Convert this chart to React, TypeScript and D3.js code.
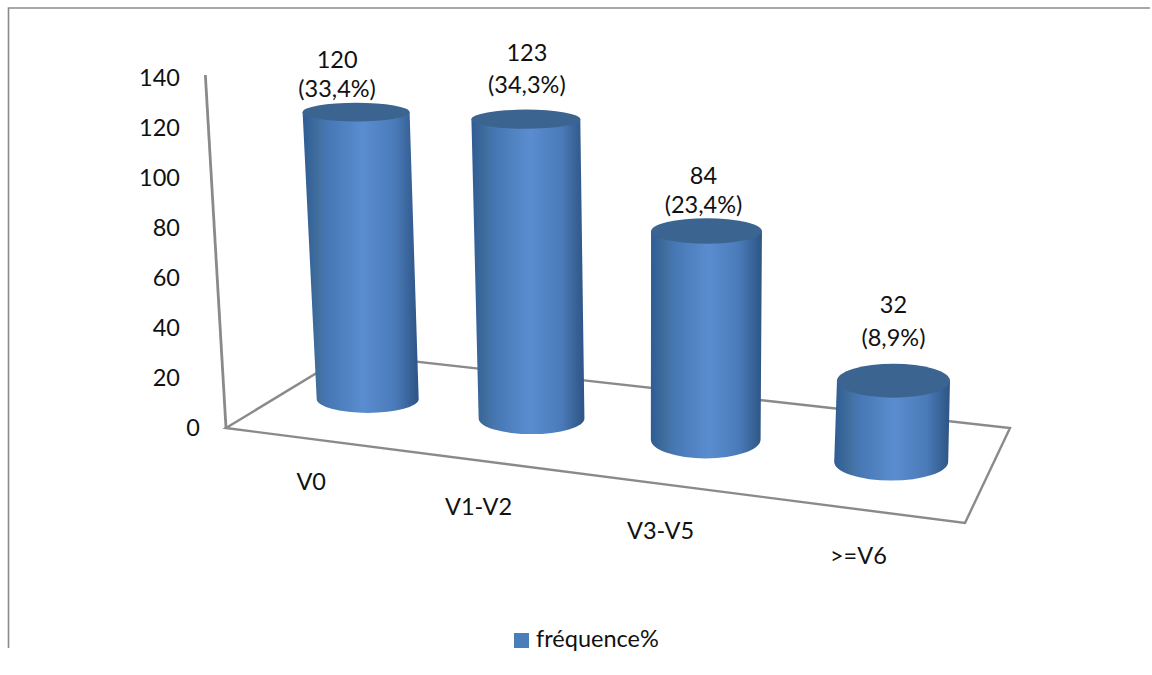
import React from "react";
import * as d3 from "d3";

const categories = ["V0", "V1-V2", "V3-V5", ">=V6"];
const counts = [120, 123, 84, 32];
const shares = ["(33,4%)", "(34,3%)", "(23,4%)", "(8,9%)"];
const yTicks = [0, 20, 40, 60, 80, 100, 120, 140];
const legendLabel = "fréquence%";

const FONT = "Lato, 'Open Sans', sans-serif";
const FONT_SIZE = 23.5;
const AXIS = "#8a8a8a";

// Floor corners on screen: near-left, near-right, far-right, far-left
const floor: [number, number][] = [[226, 428], [965, 523], [1010, 428], [348, 354]];

function makeHomography(q: [number, number][]) {
  const [[x0, y0], [x1, y1], [x2, y2], [x3, y3]] = q;
  const dx1 = x1 - x2, dx2 = x3 - x2, sx = x0 - x1 + x2 - x3;
  const dy1 = y1 - y2, dy2 = y3 - y2, sy = y0 - y1 + y2 - y3;
  const det = dx1 * dy2 - dx2 * dy1;
  const g = (sx * dy2 - dx2 * sy) / det;
  const h = (dx1 * sy - sx * dy1) / det;
  const a = x1 - x0 + g * x1, b = x3 - x0 + h * x3, c = x0;
  const d = y1 - y0 + g * y1, e = y3 - y0 + h * y3, f = y0;
  return (u: number, v: number): [number, number] => {
    const w = g * u + h * v + 1;
    return [(a * u + b * v + c) / w, (d * u + e * v + f) / w];
  };
}
const project = makeHomography(floor);

const band = d3.scaleBand<string>().domain(categories).range([0, 1]);
const yLabel = d3.scaleLinear().domain([0, 140]).range([428, 78]);

// Perspective behaviour of the 3D view, as functions of screen position
const pxPerUnit = d3.scaleLinear().domain([368, 891]).range([2.39, 2.53]);
const lean = d3.scaleLinear().domain([226, 891]).range([-0.059, 0.028]);
const rxBase = d3.scaleLinear().domain([368, 891]).range([51, 57]);
const rxTop = d3.scaleLinear().domain([368, 891]).range([53.5, 56.5]);
const ryBase = d3.scaleLinear().domain([368, 530, 703]).range([14, 15.5, 19]).clamp(true);
const ryTop = d3.scaleLinear().domain([115, 382]).range([9.5, 17]);

// Hand nudges for the labels
const labelShift = [-19, 1, -3, 0];
const labelLift = [52, 66, 55, 76];
const labelGap = [29, 32, 29, 33];
const catShift = [3, -2, -4, -3];
const catLift = [43, 46, 46, 46];

export default function App() {
  const axisTopX = floor[0][0] + lean(floor[0][0]) * (yLabel(0) - yLabel(140));
  return (
    <svg width={1152} height={675} style={{ position: "absolute", left: 0, top: 0, display: "block", background: "#fff" }}>
      <defs>
        <linearGradient id="body" x1="0" x2="1" y1="0" y2="0">
          <stop offset="0" stopColor="#2f5c94" />
          <stop offset="0.14" stopColor="#41709f" />
          <stop offset="0.2" stopColor="#4676b2" />
          <stop offset="0.52" stopColor="#5a8dd0" />
          <stop offset="0.8" stopColor="#4a7ab8" />
          <stop offset="1" stopColor="#2d5484" />
        </linearGradient>
      </defs>

      <path d="M1150,8 H8.5 V648" fill="none" stroke={AXIS} strokeWidth={1.6} />

      <polygon
        points={floor.map((p) => p.join(",")).join(" ")}
        fill="none"
        stroke={AXIS}
        strokeWidth={2.4}
      />
      <line x1={floor[0][0]} y1={floor[0][1]} x2={axisTopX} y2={yLabel(140) - 3} stroke={AXIS} strokeWidth={2.8} />

      {yTicks.map((t) => (
        <text key={t} x={t === 0 ? 200 : 180} y={yLabel(t)} dy="0.35em" textAnchor="end" fontFamily={FONT} fontSize={FONT_SIZE} fill="#111">
          {t}
        </text>
      ))}

      {categories.map((c, i) => {
        const u = (band(c) as number) + band.bandwidth() / 2;
        const [bx, by] = project(u, 0.49);
        const h = counts[i] * pxPerUnit(bx);
        const tx = bx + lean(bx) * h;
        const ty = by - h;
        const rb = rxBase(bx), rt = rxTop(bx), yb = ryBase(bx), yt = ryTop(ty);
        const body = `M${tx - rt},${ty} L${bx - rb},${by} A${rb},${yb} 0 0 0 ${bx + rb},${by} L${tx + rt},${ty} Z`;
        return (
          <g key={c}>
            <path d={body} fill="url(#body)" />
            <ellipse cx={tx} cy={ty} rx={rt} ry={yt} fill="#3c6490" />
          </g>
        );
      })}

      {categories.map((c, i) => {
        const u = (band(c) as number) + band.bandwidth() / 2;
        const [bx, by] = project(u, 0.49);
        const h = counts[i] * pxPerUnit(bx);
        const tx = bx + lean(bx) * h;
        const ty = by - h;
        const cx = tx + labelShift[i];
        const ly = ty - labelLift[i];
        const [lx, lyy] = project(u, 0);
        return (
          <g key={c} fontFamily={FONT} fontSize={FONT_SIZE} fill="#111" textAnchor="middle">
            <text x={cx} y={ly} dy="0.35em">{counts[i]}</text>
            <text x={cx} y={ly + labelGap[i]} dy="0.35em">{shares[i]}</text>
            <text x={lx + catShift[i]} y={lyy + catLift[i]} dy="0.35em">{c}</text>
          </g>
        );
      })}

      <rect x={514} y={633} width={15} height={15} fill="#4a7ebb" />
      <text x={536} y={647} fontFamily={FONT} fontSize={FONT_SIZE} fill="#111">{legendLabel}</text>
    </svg>
  );
}
